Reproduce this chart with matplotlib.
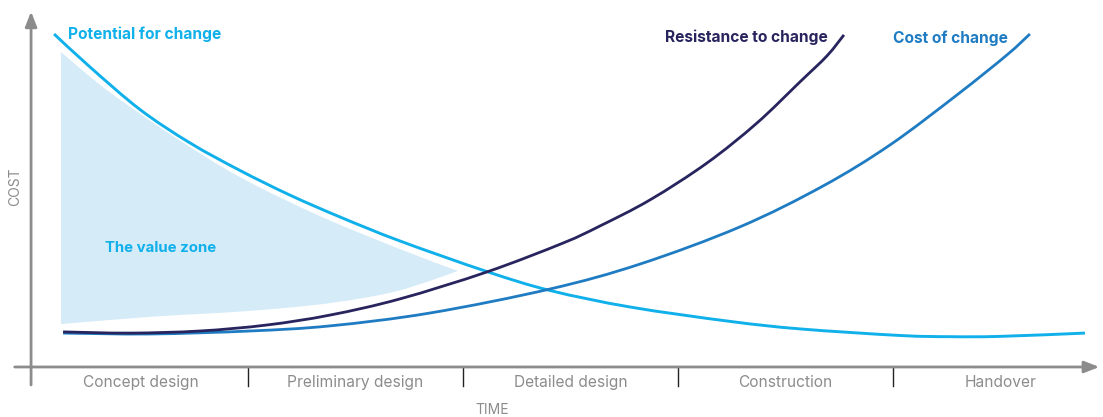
import numpy as np
import matplotlib.pyplot as plt
from matplotlib.path import Path
from matplotlib.patches import PathPatch

plt.rcParams['font.family'] = ['Inter', 'DejaVu Sans']

# phases along the time axis (each phase is one unit wide)
phases = ["Concept design", "Preliminary design", "Detailed design", "Construction", "Handover"]

# potential for change (time, cost)
pot_t = [0.098, 0.265, 0.498, 0.730, 0.963, 1.195, 1.428, 1.707, 2.112, 2.405, 2.777, 3.242, 3.567, 4.033, 4.265, 4.498, 4.893]
pot_c = [111.0, 100.0, 85.8, 74.7, 65.5, 57.3, 50.0, 42.0, 31.8, 25.5, 20.0, 15.2, 12.7, 10.5, 10.1, 10.2, 11.3]

# resistance to change
res_t = [0.140, 0.451, 0.777, 1.088, 1.381, 1.707, 2.112, 2.465, 2.637, 2.870, 3.135, 3.367, 3.567, 3.693, 3.772]
res_c = [11.7, 11.3, 12.0, 14.0, 17.3, 22.7, 31.7, 41.3, 47.0, 55.7, 68.0, 81.3, 95.0, 103.7, 110.7]

# cost of change
cost_t = [0.140, 0.544, 1.009, 1.381, 1.847, 2.405, 2.823, 3.288, 3.674, 3.986, 4.298, 4.530, 4.637]
cost_c = [11.3, 11.0, 12.0, 13.7, 18.0, 26.0, 34.3, 46.7, 60.3, 74.0, 90.7, 104.0, 111.0]

# value zone: upper edge (left to tip) and lower edge (tip back to left)
zone_top_t = [0.130, 0.344, 0.651, 0.963, 1.335, 1.707, 1.977]
zone_top_c = [105.0, 92.3, 77.0, 63.3, 50.3, 39.3, 32.0]
zone_bot_t = [1.977, 1.693, 1.381, 1.009, 0.544, 0.130]
zone_bot_c = [32.0, 25.3, 21.3, 18.7, 16.7, 14.3]

light = "#10b0ea"
navy = "#27245e"
mid = "#1f7cc2"
grey = "#8c8c8c"


def smooth_path(xs, ys, start=True):
    # catmull-rom through the read points, drawn as bezier segments
    p = np.column_stack([xs, ys])
    verts, codes = [], []
    if start:
        verts.append(p[0])
        codes.append(Path.MOVETO)
    for i in range(len(p) - 1):
        p0 = p[i - 1] if i > 0 else p[i]
        p3 = p[i + 2] if i + 2 < len(p) else p[i + 1]
        verts += [p[i] + (p[i + 1] - p0) / 6, p[i + 1] - (p3 - p[i]) / 6, p[i + 1]]
        codes += [Path.CURVE4] * 3
    return verts, codes


fig = plt.figure(figsize=(11.03, 4.17), dpi=100)
ax = fig.add_axes([0, 0, 1, 1])
ax.set_xlim(-0.1535, 4.977)
ax.set_ylim(-16.67, 122.33)
ax.axis("off")

v1, c1 = smooth_path(zone_top_t, zone_top_c)
v2, c2 = smooth_path(zone_bot_t, zone_bot_c, start=False)
zone = Path(v1 + v2 + [v1[0]], c1 + c2 + [Path.CLOSEPOLY])
ax.add_patch(PathPatch(zone, facecolor="#d5ecf8", lw=0))

for xs, ys, col, lw in [(pot_t, pot_c, light, 2.1), (cost_t, cost_c, mid, 2.0), (res_t, res_c, navy, 2.0)]:
    v, c = smooth_path(xs, ys)
    ax.add_patch(PathPatch(Path(v, c), facecolor="none", edgecolor=col, lw=lw, capstyle="butt"))

# axes with arrows
ax.annotate("", xy=(-0.009, 118.5), xytext=(-0.009, -6),
            arrowprops=dict(arrowstyle="-|>,head_length=0.9,head_width=0.35", color=grey, lw=2, shrinkA=0, shrinkB=0))
ax.annotate("", xy=(4.96, 0), xytext=(-0.085, 0),
            arrowprops=dict(arrowstyle="-|>,head_length=0.9,head_width=0.35", color=grey, lw=2, shrinkA=0, shrinkB=0))

for i, name in enumerate(phases):
    ax.text(i + 0.5, -5.3, name, ha="center", va="center", fontsize=11.2, color=grey)
    if i > 0:
        ax.plot([i, i], [0, -6.3], color="#222222", lw=1)

ax.text(-0.084, 60, "COST", rotation=90, ha="center", va="center", fontsize=10, color=grey)
ax.text(2.135, -14.3, "TIME", ha="center", va="center", fontsize=10, color=grey)

ax.text(0.163, 111, "Potential for change", ha="left", va="center", fontsize=11.2, fontweight="bold", color=light)
ax.text(3.698, 110, "Resistance to change", ha="right", va="center", fontsize=11.2, fontweight="bold", color=navy)
ax.text(4.0, 109.5, "Cost of change", ha="left", va="center", fontsize=11.2, fontweight="bold", color=mid)
ax.text(0.335, 39.7, "The value zone", ha="left", va="center", fontsize=10.8, fontweight="bold", color=light)

fig.savefig("out.png", dpi=100)
